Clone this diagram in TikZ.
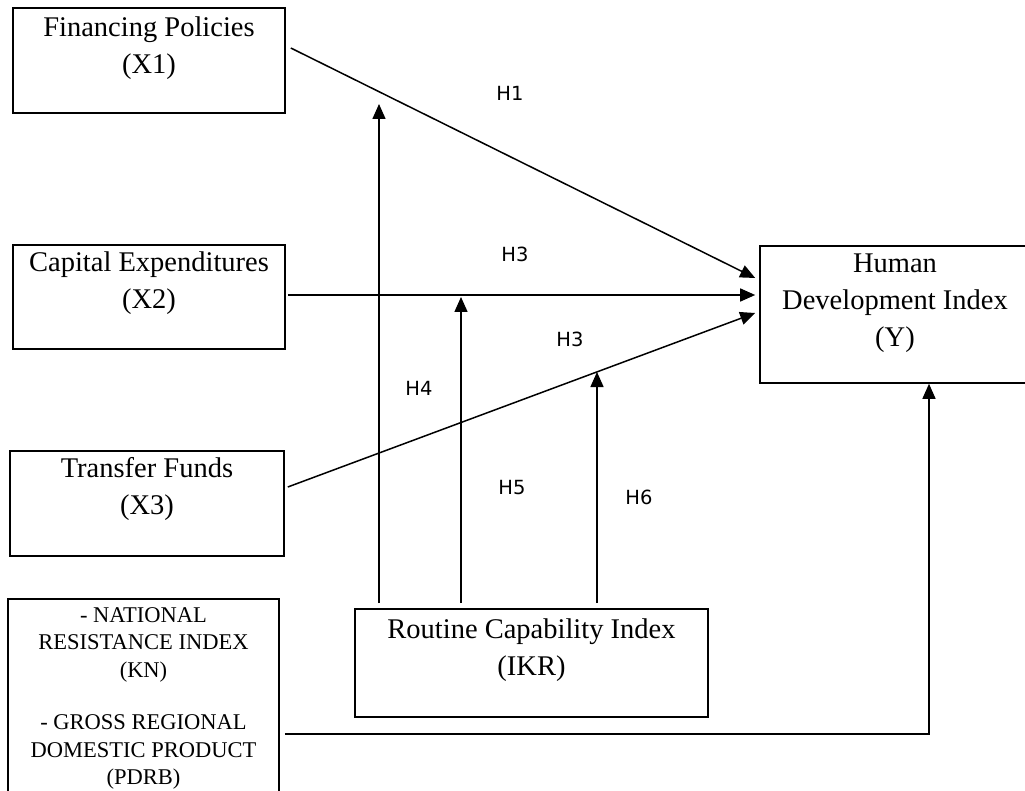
\documentclass[tikz,border=0pt]{standalone}
\usepackage{fontspec}
\setmainfont{Liberation Serif}
\newfontfamily\lblfont{DejaVu Sans}
\usetikzlibrary{arrows.meta}
\begin{document}
\begin{tikzpicture}[x=1pt,y=-1pt,
  box/.style={draw, line width=1.6pt, inner sep=0pt},
  main/.style={font=\fontsize{28.5}{37}\selectfont, align=center, anchor=north, inner sep=0pt},
  small/.style={font=\fontsize{22.5}{27.5}\selectfont, align=center, anchor=north, inner sep=0pt},
  hl/.style={font=\lblfont\fontsize{19.5}{22}\selectfont, inner sep=0pt},
  conn/.style={line width=1.5pt, -{Triangle[length=15pt,width=13pt]}}]
\useasboundingbox (0,0) rectangle (1025,791);
\clip (0,0) rectangle (1025,791);

% boxes
\node[box, minimum width=272pt, minimum height=105pt] (x1) at (149,60.5) {};
\node[box, minimum width=272pt, minimum height=104pt] (x2) at (149,297) {};
\node[box, minimum width=274pt, minimum height=105pt] (x3) at (147,503.5) {};
\node[box, minimum width=271pt, minimum height=221pt] (kn) at (143.5,709.5) {};
\node[box, minimum width=353pt, minimum height=108pt] (rci) at (531.5,663) {};
\node[box, minimum width=270pt, minimum height=137pt] (hdi) at (895,314.5) {};

% box texts
\node[main] (x1t) at (149,17) {Financing Policies\\(X1)};
\node[main] (x2t) at (149,252) {Capital Expenditures\\(X2)};
\node[main] (x3t) at (147,457) {Transfer Funds\\(X3)};
\node[main] (hdit) at (895,254) {Human\\Development Index\\(Y)};
\node[main] (rcit) at (531.5,619) {Routine Capability Index\\(IKR)};
\node[small] (knt) at (143.5,607) {- NATIONAL\\RESISTANCE INDEX\\(KN)\\[25pt]- GROSS REGIONAL\\DOMESTIC PRODUCT\\(PDRB)};

% hypothesis labels
\node[hl] (h1) at (510,93) {H1};
\node[hl] (h3a) at (515,254) {H3};
\node[hl] (h3b) at (570,339) {H3};
\node[hl] (h4) at (419,388) {H4};
\node[hl] (h5) at (512,488) {H5};
\node[hl] (h6) at (639,497) {H6};

% tips of moderating arrows on the paths
\coordinate (m1) at (379,104);
\coordinate (m2) at (461,297);
\coordinate (m3) at (597,372);

% main paths
\draw[conn] ([xshift=5pt,yshift=12.5pt]x1.east) -- ([xshift=-4pt,yshift=36.5pt]hdi.west);
\draw[conn] ([xshift=2pt,yshift=2pt]x2.east) -- ([xshift=-4pt,yshift=19.5pt]hdi.west);
\draw[conn] ([xshift=3pt,yshift=16.5pt]x3.east) -- ([xshift=-4pt,yshift=1.5pt]hdi.west);

% moderating arrows
\draw[conn] ([xshift=-152.5pt,yshift=5pt]rci.north) -- (m1);
\draw[conn] ([xshift=-70.5pt,yshift=5pt]rci.north) -- (m2);
\draw[conn] ([xshift=65.5pt,yshift=5pt]rci.north) -- (m3);

% control variables
\draw[conn] ([xshift=5pt,yshift=-24.5pt]kn.east) -| ([xshift=34pt]hdi.south);
\end{tikzpicture}
\end{document}
